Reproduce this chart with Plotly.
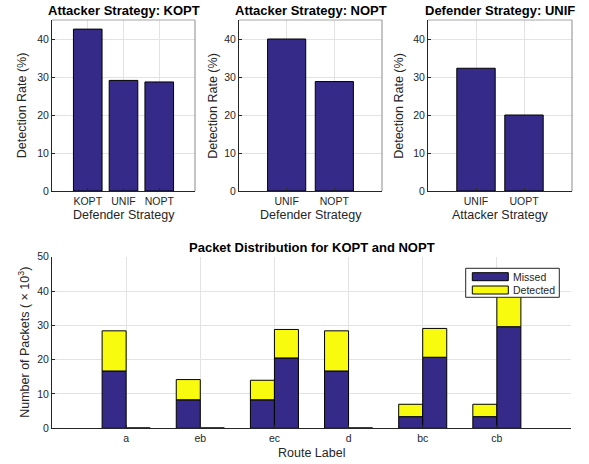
import plotly.graph_objects as go

# ---------------- data ----------------
kopt_defenders = ["KOPT", "UNIF", "NOPT"]
kopt_rates = [42.6, 29.1, 28.7]

nopt_defenders = ["UNIF", "NOPT"]
nopt_rates = [40.0, 28.8]

unif_attackers = ["UNIF", "UOPT"]
unif_rates = [32.3, 20.0]

routes = ["a", "eb", "ec", "d", "bc", "cb"]
kopt_missed = [16.7, 8.3, 8.3, 16.7, 3.4, 3.4]
kopt_detected = [11.7, 5.9, 5.7, 11.7, 3.6, 3.6]
nopt_missed = [0.0, 0.0, 20.5, 0.0, 20.7, 29.6]
nopt_detected = [0.1, 0.1, 8.3, 0.1, 8.4, 11.9]

series_names = ["Missed", "Detected"]

top_titles = ["Attacker Strategy: KOPT", "Attacker Strategy: NOPT", "Defender Strategy: UNIF"]
top_xtitles = ["Defender Strategy", "Defender Strategy", "Attacker Strategy"]

# ---------------- style ----------------
W, H = 589, 464
NAVY = "rgb(53,42,135)"
YELLOW = "rgb(249,251,14)"
AX = "#262626"
GRID = "#e3e3e3"
EDGE = "#8a8a8a"
FONT = "Liberation Sans, Arial, Helvetica, sans-serif"

def px_x(p):
    return p / W

def px_y(p):
    return 1 - p / H

def aid(n):
    return "" if n == 1 else str(n)

top_doms = [(52, 195), (239, 382), (428, 572)]
top_y = (20, 191)
bot_x = (52, 571)
bot_y = (256.7, 428.3)

fig = go.Figure()

tops = [(kopt_defenders, kopt_rates), (nopt_defenders, nopt_rates), (unif_attackers, unif_rates)]
for i, (cats, vals) in enumerate(tops):
    n = i + 1
    fig.add_trace(go.Bar(
        x=cats, y=vals, width=0.8,
        marker=dict(color=NAVY, line=dict(color="black", width=1)),
        xaxis=f"x{aid(n)}", yaxis=f"y{aid(n)}", showlegend=False,
    ))

# bottom: KOPT and NOPT stacked bars (missed at base, detected on top)
groups = [(kopt_missed, kopt_detected, -0.324), (nopt_missed, nopt_detected, 0.0)]
for gi, (missed, detected, off) in enumerate(groups):
    fig.add_trace(go.Bar(
        x=routes, y=missed, offset=off, width=0.324,
        marker=dict(color=NAVY, line=dict(color="black", width=1)),
        xaxis="x4", yaxis="y4", name=series_names[0], showlegend=False,
    ))
    fig.add_trace(go.Bar(
        x=routes, y=detected, base=missed, offset=off, width=0.324,
        marker=dict(color=YELLOW, line=dict(color="black", width=1)),
        xaxis="x4", yaxis="y4", name=series_names[1], showlegend=False,
    ))

axis_common = dict(
    showline=True, linecolor=AX, linewidth=1, ticks="inside", ticklen=3,
    tickcolor=AX, tickfont=dict(family=FONT, size=10.5, color=AX),
    showgrid=True, gridcolor=GRID, gridwidth=1, zeroline=False,
    fixedrange=True, automargin=False,
)

layout = dict(
    width=W, height=H, autosize=False, margin=dict(l=0, r=0, t=0, b=0, pad=0),
    paper_bgcolor="white", plot_bgcolor="white",
    barmode="overlay", showlegend=False,
    font=dict(family=FONT, color=AX),
)

ranges_x = [[-1, 3], [-1, 2], [-1, 2]]
for i, (x0, x1) in enumerate(top_doms):
    n = i + 1
    layout[f"xaxis{aid(n)}"] = dict(axis_common, domain=[px_x(x0), px_x(x1)], anchor=f"y{aid(n)}",
                                    range=ranges_x[i], type="category")
    layout[f"yaxis{aid(n)}"] = dict(axis_common, domain=[px_y(top_y[1]), px_y(top_y[0])],
                                    anchor=f"x{aid(n)}", range=[0, 45], tickvals=[0, 10, 20, 30, 40])

layout["xaxis4"] = dict(axis_common, domain=[px_x(bot_x[0]), px_x(bot_x[1])], anchor="y4",
                        range=[-1, 6], type="category")
layout["yaxis4"] = dict(axis_common, domain=[px_y(bot_y[1]), px_y(bot_y[0])], anchor="x4",
                        range=[0, 50], tickvals=[0, 10, 20, 30, 40, 50])

fig.update_layout(**layout)

annotations = []
shapes = []
ylab_x = [22.7, 213.3, 399.3]
for i, (x0, x1) in enumerate(top_doms):
    n = i + 1
    cx = (x0 + x1) / 2
    annotations.append(dict(text=f"<b>{top_titles[i]}</b>", x=px_x(cx), y=px_y(10),
                            xref="paper", yref="paper", showarrow=False,
                            font=dict(family=FONT, size=13, color="black"),
                            xanchor="center", yanchor="middle"))
    annotations.append(dict(text=top_xtitles[i], x=px_x(cx), y=px_y(215),
                            xref="paper", yref="paper", showarrow=False,
                            font=dict(family=FONT, size=12.5, color=AX),
                            xanchor="center", yanchor="middle"))
    annotations.append(dict(text="Detection Rate (%)", x=px_x(ylab_x[i]), y=px_y((top_y[0] + top_y[1]) / 2),
                            xref="paper", yref="paper", showarrow=False, textangle=-90,
                            font=dict(family=FONT, size=12.5, color=AX),
                            xanchor="center", yanchor="middle"))
    # box edges (right and top) in lighter gray, as in the MATLAB axes box
    shapes.append(dict(type="line", xref=f"x{aid(n)} domain", yref=f"y{aid(n)} domain",
                       x0=1, x1=1, y0=0, y1=1, line=dict(color=EDGE, width=1), layer="above"))
    shapes.append(dict(type="line", xref=f"x{aid(n)} domain", yref=f"y{aid(n)} domain",
                       x0=0, x1=1, y0=1, y1=1, line=dict(color="#a6a6a6", width=1), layer="above"))

bcx = (bot_x[0] + bot_x[1]) / 2
annotations.append(dict(text="<b>Packet Distribution for KOPT and NOPT</b>", x=px_x(bcx), y=px_y(247.7),
                        xref="paper", yref="paper", showarrow=False,
                        font=dict(family=FONT, size=13, color="black"),
                        xanchor="center", yanchor="middle"))
annotations.append(dict(text="Route Label", x=px_x(bcx), y=px_y(453),
                        xref="paper", yref="paper", showarrow=False,
                        font=dict(family=FONT, size=12.5, color=AX),
                        xanchor="center", yanchor="middle"))
annotations.append(dict(text="Number of Packets ( × 10<sup>3</sup>)", x=px_x(23.3),
                        y=px_y((bot_y[0] + bot_y[1]) / 2),
                        xref="paper", yref="paper", showarrow=False, textangle=-90,
                        font=dict(family=FONT, size=12.5, color=AX),
                        xanchor="center", yanchor="middle"))

# legend (MATLAB style: wide flat swatches in a boxed panel)
shapes.append(dict(type="rect", xref="paper", yref="paper",
                   x0=px_x(465.7), x1=px_x(559.3), y0=px_y(297.3), y1=px_y(268.3),
                   fillcolor="white", line=dict(color=AX, width=1), layer="above"))
leg_rows = [(272.7, 280.7, NAVY), (286.0, 294.0, YELLOW)]
for (ya, yb, col), name in zip(leg_rows, series_names):
    shapes.append(dict(type="rect", xref="paper", yref="paper",
                       x0=px_x(472.3), x1=px_x(508.3), y0=px_y(yb), y1=px_y(ya),
                       fillcolor=col, line=dict(color="black", width=1), layer="above"))
    annotations.append(dict(text=name, x=px_x(510.5), y=px_y((ya + yb) / 2),
                            xref="paper", yref="paper", showarrow=False,
                            font=dict(family=FONT, size=10.5, color=AX),
                            xanchor="left", yanchor="middle"))

fig.update_layout(annotations=annotations, shapes=shapes)

fig.write_html(
    "out.html",
    config={"displayModeBar": False, "responsive": False},
    post_script=("document.documentElement.style.margin='0';"
                 "document.documentElement.style.overflow='hidden';"
                 "document.body.style.margin='0';document.body.style.padding='0';"
                 "document.body.style.overflow='hidden';"),
)
